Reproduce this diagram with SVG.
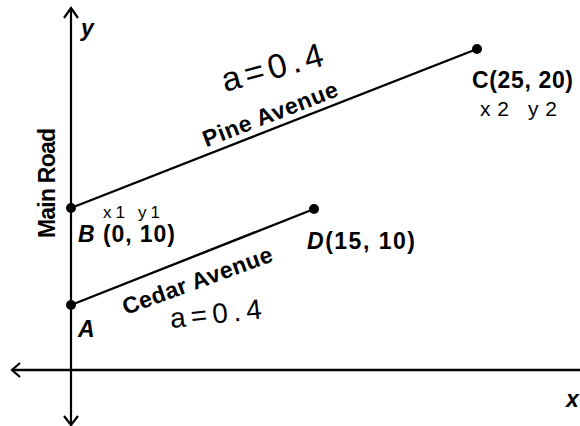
<svg xmlns="http://www.w3.org/2000/svg" width="580" height="426" viewBox="0 0 580 426">
<style>
.lbl{font-family:"Liberation Sans",Arial,sans-serif;font-weight:bold;font-size:23px;fill:#000}
.it{font-style:italic}
.hand{font-family:"Liberation Sans",Arial,sans-serif;font-weight:normal;fill:#000}
.axis{stroke:#000;stroke-width:2.2;fill:none}
.road{stroke:#000;stroke-width:2.4;fill:none}
.dot{fill:#000}
</style>
<rect width="580" height="426" fill="#fff"/>
<g id="axes">
  <line class="axis" x1="71" y1="8" x2="71" y2="426"/>
  <polyline class="axis" points="64,18 71,8 78,18"/>
  <polyline class="axis" points="64,416 71,425 78,416"/>
  <line class="axis" x1="12" y1="370" x2="580" y2="370" style="stroke-width:2.6"/>
  <polyline class="axis" points="20,363 12,370 20,377"/>
  <text class="lbl it" x="81" y="36" font-size="23">y</text>
  <text class="lbl it" x="566" y="407">x</text>
  <text class="lbl" transform="translate(55,238) rotate(-90)" textLength="110" lengthAdjust="spacing">Main Road</text>
</g>
<g id="connectors">
  <line class="road" x1="71" y1="208" x2="477" y2="49"/>
  <line class="road" x1="71" y1="305" x2="314" y2="209"/>
  <text class="lbl" x="273" y="121.5" text-anchor="middle" transform="rotate(-21.2,273,121.5)" textLength="143" lengthAdjust="spacing">Pine Avenue</text>
  <text class="lbl" x="200" y="288" text-anchor="middle" transform="rotate(-20,200,288)" textLength="158" lengthAdjust="spacing">Cedar Avenue</text>
  <text class="hand" x="225" y="92" font-size="34" transform="rotate(-15,225,92)" textLength="104" lengthAdjust="spacing">a=0.4</text>
  <text class="hand" x="171" y="328" font-size="28" transform="rotate(-6,171,328)" textLength="92" lengthAdjust="spacing">a=0.4</text>
</g>
<g id="B">
  <circle class="dot" cx="71" cy="208" r="5"/>
  <text class="lbl" x="78" y="242" textLength="97" lengthAdjust="spacing"><tspan class="it">B</tspan> (0, 10)</text>
  <text class="hand" x="103" y="218" font-size="17" textLength="57" lengthAdjust="spacing">x1 y1</text>
</g>
<g id="A">
  <circle class="dot" cx="71" cy="305" r="5"/>
  <text class="lbl it" x="78" y="337">A</text>
</g>
<g id="C">
  <circle class="dot" cx="477" cy="49" r="5"/>
  <text class="lbl" x="472" y="88" textLength="101" lengthAdjust="spacing">C(25, 20)</text>
  <text class="hand" x="480" y="116" font-size="21" textLength="77" lengthAdjust="spacing">x2 y2</text>
</g>
<g id="D">
  <circle class="dot" cx="314" cy="209" r="5"/>
  <text class="lbl" x="307" y="249" textLength="108" lengthAdjust="spacing"><tspan class="it">D</tspan>(15, 10)</text>
</g>
</svg>
